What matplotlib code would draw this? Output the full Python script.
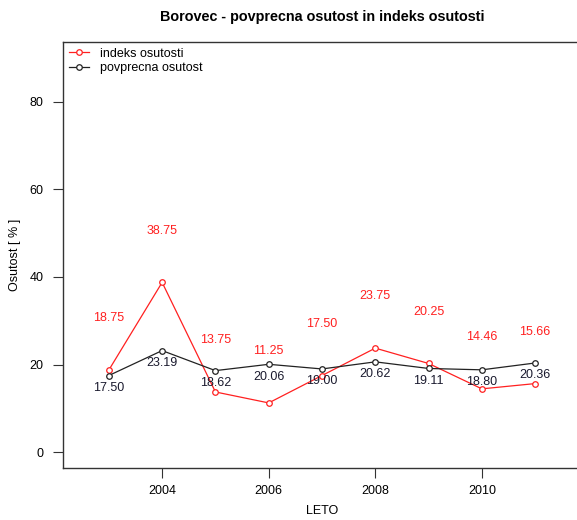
import matplotlib
matplotlib.use("Agg")
import matplotlib.pyplot as plt

years = [2003, 2004, 2005, 2006, 2007, 2008, 2009, 2010, 2011]
indeks = [18.75, 38.75, 13.75, 11.25, 17.50, 23.75, 20.25, 14.46, 15.66]
povprecna = [17.50, 23.19, 18.62, 20.06, 19.00, 20.62, 19.11, 18.80, 20.36]
xticks = [2004, 2006, 2008, 2010]
yticks = [0, 20, 40, 60, 80]

plt.rcParams['font.family'] = ['Liberation Sans', 'DejaVu Sans']

W, H = 577, 520
fig = plt.figure(figsize=(W / 100, H / 100), dpi=100)
left, right, top, bottom = 63, 581, 42, 468
ax = fig.add_axes([left / W, 1 - bottom / H, (right - left) / W, (bottom - top) / H])

red = '#FF2020'
dark = '#222222'
ax.plot(years, indeks, color=red, lw=0.9, marker='o', ms=4, mfc='white', mec=red, mew=0.9,
        label='indeks osutosti')
ax.plot(years, povprecna, color=dark, lw=0.9, marker='o', ms=4, mfc='white', mec=dark, mew=0.9,
        label='povprecna osutost')

for x, v in zip(years, indeks):
    ax.text(x, v + 11.8, f'{v:.2f}', color=red, ha='center', va='center', fontsize=9)
for x, v in zip(years, povprecna):
    ax.text(x, v - 2.8, f'{v:.2f}', color='#1a1a2e', ha='center', va='center', fontsize=9)

ax.set_xlim(2002.14, 2011.86)
ax.set_ylim(-3.6, 93.6)
ax.set_xticks(xticks)
ax.set_yticks(yticks)
ax.tick_params(labelsize=9, length=7, width=0.8, color='#333333', pad=5)
ax.tick_params(axis='y', pad=7)
for s in ax.spines.values():
    s.set_linewidth(1.0)
    s.set_color('#333333')

fig.text(322 / W, 1 - 511 / H, 'LETO', fontsize=9, ha='center', va='center')
fig.text(15 / W, 1 - 255 / H, 'Osutost [ % ]', fontsize=9, ha='center', va='center',
         rotation=90)
fig.text(322 / W, 1 - 17 / H, 'Borovec - povprecna osutost in indeks osutosti',
         fontsize=10.4, fontweight='bold', ha='center', va='center')

ax.legend(loc='upper left', frameon=False, fontsize=9, handlelength=1.6,
          borderaxespad=0.15, borderpad=0.3, handletextpad=0.9, labelspacing=0.2)

fig.savefig('out.png', dpi=100)
